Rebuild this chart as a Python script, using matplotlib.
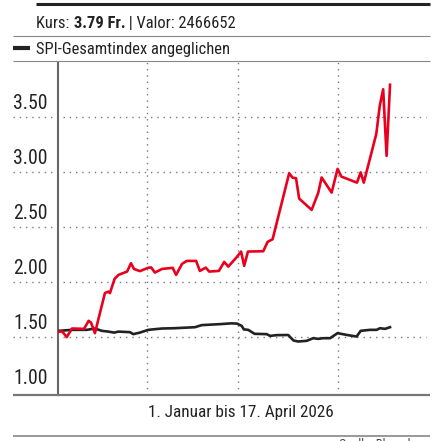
import matplotlib
matplotlib.use("Agg")
import matplotlib.pyplot as plt
from matplotlib import font_manager

# ---- data (days since 1 Jan 2026, price in CHF) ----
kurs_days = [0, 1.06, 2.47, 4.16, 8.0, 9.5, 10.25, 11.5, 13.1, 14.7, 15.8, 16.3, 17.8, 19.05,
             21.8, 23.05, 24.0, 25.9, 28.5, 29.5, 30.7, 33.0, 36.4, 37.5, 39.4, 40.9, 43.9,
             45.1, 47.0, 48.1, 51.2, 52.9, 54.2, 56.9, 58.3, 59.3, 60.5, 65.4, 66.8, 68.4,
             73.7, 74.8, 75.9, 76.9, 80.9, 83.0, 84.1, 87.3, 89.2, 90.4, 95.4, 96.6, 97.6,
             101.6, 102.7, 103.8, 104.9, 106.0]
kurs = [1.545, 1.545, 1.495, 1.573, 1.570, 1.643, 1.627, 1.531, 1.713, 1.895, 1.909, 1.895,
        2.025, 2.061, 2.091, 2.167, 2.115, 2.095, 2.125, 2.129, 2.082, 2.115, 2.125, 2.061,
        2.161, 2.188, 2.188, 2.097, 2.127, 2.091, 2.097, 2.179, 2.136, 2.222, 2.273, 2.143,
        2.273, 2.276, 2.361, 2.385, 2.985, 2.945, 2.940, 2.755, 2.652, 2.806, 2.947, 2.809,
        3.025, 2.955, 2.900, 2.993, 2.900, 3.343, 3.597, 3.749, 3.143, 3.79]

spi_days = [0, 4.1, 8.9, 11.5, 13.7, 15.8, 17.7, 19.0, 22.7, 23.8, 25.9, 28.6, 30.7, 32.9,
            37.1, 43.5, 45.7, 51.6, 55.1, 57.0, 58.5, 59.2, 60.6, 62.6, 66.5, 67.6, 69.7,
            73.4, 75.1, 76.6, 79.3, 81.4, 83.0, 84.6, 86.8, 89.2, 92.1, 95.3, 96.6, 99.6,
            101.7, 102.8, 104.4, 106.0]
spi = [1.552, 1.561, 1.561, 1.573, 1.552, 1.545, 1.536, 1.545, 1.540, 1.522, 1.536, 1.561,
       1.567, 1.573, 1.576, 1.585, 1.604, 1.613, 1.620, 1.618, 1.597, 1.565, 1.561, 1.525,
       1.522, 1.506, 1.513, 1.514, 1.464, 1.455, 1.461, 1.485, 1.479, 1.485, 1.485, 1.531,
       1.515, 1.500, 1.552, 1.561, 1.561, 1.576, 1.570, 1.585]

y_ticks = [1.00, 1.50, 2.00, 2.50, 3.00, 3.50]
y_tick_labels = ["1.00", "1.50", "2.00", "2.50", "3.00", "3.50"]
x_grid = [28.2, 57.2, 89.2]

title_parts = ["Kurs: ", "3.79 Fr.", " | Valor: 2466652"]
legend_label = "SPI-Gesamtindex angeglichen"
x_label = "1. Januar bis 17. April 2026"
source = "Quelle: Bloomberg"

# ---- style ----
FONT = ['Roboto Condensed', 'Barlow Semi Condensed', 'Archivo Narrow', 'Roboto', 'DejaVu Sans']
plt.rcParams['font.family'] = FONT
RED = '#e8001e'
BLACK = '#222222'
GRID = '#7a7a7a'

W, H = 435, 441
fig = plt.figure(figsize=(W / 100, H / 100), dpi=100)

def fx(x):
    return x / W

def fy(y):
    return 1 - y / H

ax_l, ax_r, ax_t, ax_b = 57.7, 430, 62, 394.5
ax = fig.add_axes([fx(ax_l), fy(ax_b), fx(ax_r) - fx(ax_l), fy(ax_t) - fy(ax_b)])
ax.set_xlim(-0.42, 118.8)
ax.set_ylim(0.973, 3.997)
for s in ['top', 'right', 'bottom']:
    ax.spines[s].set_visible(False)
ax.spines['left'].set_color('#666666')
ax.spines['left'].set_linewidth(1.5)
ax.set_xticks([])
ax.set_yticks([])

dots = (0, (1, 3.5))
left_frac = (13 - ax_l) / (ax_r - ax_l)
for v in y_ticks[1:]:
    ax.plot([left_frac, 0.99], [v, v], transform=ax.get_yaxis_transform(), clip_on=False,
            color=GRID, lw=1.0, ls=dots, zorder=1)
for d in x_grid:
    ax.axvline(d, color=GRID, lw=1.0, ls=dots, zorder=1)

for v, lab in zip(y_ticks, y_tick_labels):
    ax.annotate(lab, xy=(left_frac, v), xycoords=('axes fraction', 'data'),
                xytext=(0, 2.6), textcoords='offset points', ha='left', va='bottom',
                fontsize=14.2, color='#222222', annotation_clip=False)

ax.plot(spi_days, spi, color=BLACK, lw=1.9, zorder=3, solid_joinstyle='round')
ax.plot(kurs_days, kurs, color=RED, lw=1.9, zorder=4, solid_joinstyle='round')

# ---- decorations ----
def hline(y, x0, x1, lw, color):
    fig.add_artist(plt.Line2D([fx(x0), fx(x1)], [fy(y), fy(y)], lw=lw, color=color,
                              solid_capstyle='butt'))

hline(3.5, 36, 430, 2.2, '#222222')
hline(35.8, 13, 430, 0.8, '#888888')
hline(61.2, 13, 430, 0.8, '#888888')
hline(394.5, 13, 430, 1.6, '#777777')
hline(435.8, 13, 430, 1.2, '#888888')
hline(48.3, 13, 30, 3.0, '#222222')

renderer = fig.canvas.get_renderer()
x = 36.5
weights = ['normal', 'bold', 'normal']
for part, wgt in zip(title_parts, weights):
    t = fig.text(fx(x), fy(27.7), part, fontsize=11.9, fontweight=wgt, ha='left',
                 va='baseline', color='#222222')
    bb = t.get_window_extent(renderer)
    x += bb.width

fig.text(fx(36.5), fy(54.3), legend_label, fontsize=11.9, ha='left', va='baseline',
         color='#222222')
fig.text(fx(241), fy(417.3), x_label, fontsize=12.3, ha='center', va='baseline',
         color='#222222')
fig.text(fx(430), fy(437.8), source, fontsize=9, ha='right', va='top', color='#444444')

fig.savefig('out.png', dpi=100)
